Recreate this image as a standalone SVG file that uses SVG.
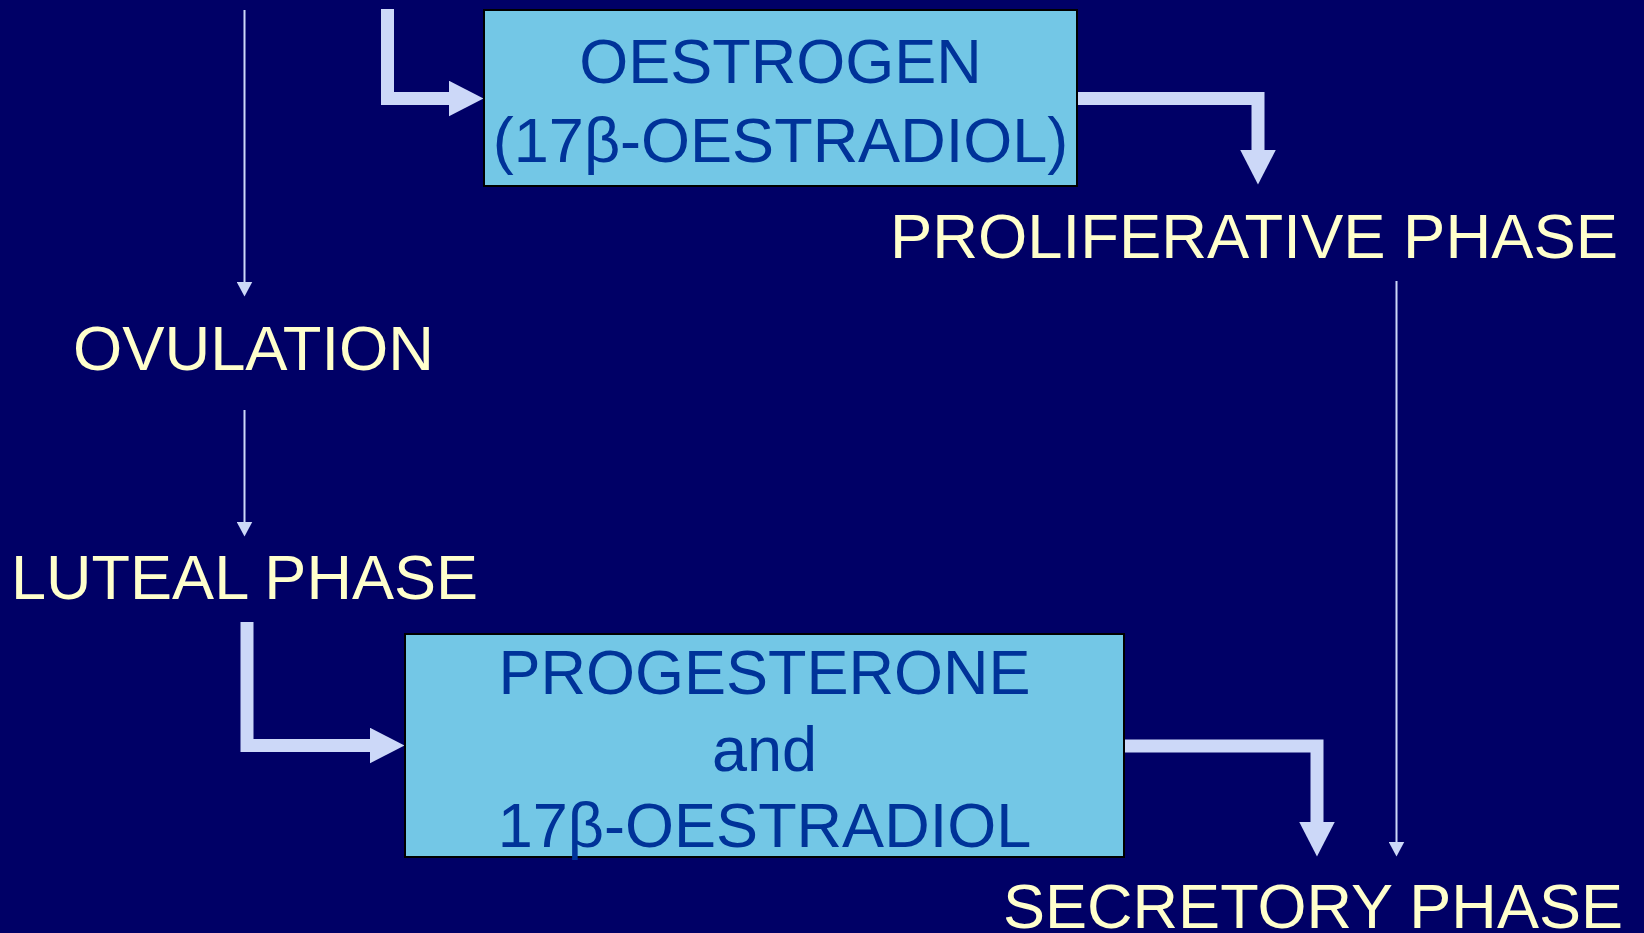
<svg xmlns="http://www.w3.org/2000/svg" width="1644" height="933" viewBox="0 0 1644 933">
<defs>
<style>
.lbl{font-family:"Liberation Sans",Arial,sans-serif;font-size:63px;fill:#FFFFCC}
.box{fill:#73C7E6;stroke:#000000;stroke-width:2}
.btxt{font-family:"Liberation Sans",Arial,sans-serif;font-size:63px;fill:#003399;text-anchor:middle}
.thick{fill:none;stroke:#CCD8F8;stroke-width:13;stroke-linejoin:miter;stroke-linecap:butt}
.thin{fill:none;stroke:#CCD8F8;stroke-width:2}
</style>
<marker id="bigHead" markerUnits="userSpaceOnUse" viewBox="0 0 35 36" markerWidth="35" markerHeight="36" refX="0.5" refY="18" orient="auto">
<path d="M0,0 L35,18 L0,36 Z" fill="#CCD8F8"/>
</marker>
<marker id="smallHead" markerUnits="userSpaceOnUse" viewBox="0 0 15 16" markerWidth="15" markerHeight="16" refX="0.5" refY="8" orient="auto">
<path d="M0,0 L15,8 L0,16 Z" fill="#CCD8F8"/>
</marker>
</defs>
<rect x="0" y="0" width="1644" height="933" fill="#000066"/>
<g id="connectors">
<path class="thick" d="M387.5,9 V98.5 H449" marker-end="url(#bigHead)"/>
<path class="thick" d="M1077,98.5 H1258 V150" marker-end="url(#bigHead)"/>
<path class="thick" d="M247,622 V745.5 H370" marker-end="url(#bigHead)"/>
<path class="thick" d="M1124,746 H1317 V822" marker-end="url(#bigHead)"/>
<path class="thin" d="M244.5,10 V282" marker-end="url(#smallHead)"/>
<path class="thin" d="M244.5,410 V522" marker-end="url(#smallHead)"/>
<path class="thin" d="M1396.5,281 V842" marker-end="url(#smallHead)"/>
</g>
<g id="oestrogen">
<rect class="box" x="484" y="10" width="593" height="176"/>
<text class="btxt" x="780.5" y="83">OESTROGEN</text>
<text class="btxt" x="780.5" y="162">(17β-OESTRADIOL)</text>
</g>
<g id="progesterone">
<rect class="box" x="405" y="634" width="719" height="223"/>
<text class="btxt" x="764.5" y="694">PROGESTERONE</text>
<text class="btxt" x="764.5" y="771">and</text>
<text class="btxt" x="764.5" y="847">17β-OESTRADIOL</text>
</g>
<g id="proliferative">
<text class="lbl" x="890" y="258" textLength="728" lengthAdjust="spacingAndGlyphs">PROLIFERATIVE PHASE</text>
</g>
<g id="ovulation">
<text class="lbl" x="73" y="370" textLength="361" lengthAdjust="spacingAndGlyphs">OVULATION</text>
</g>
<g id="luteal">
<text class="lbl" x="11" y="599" textLength="467" lengthAdjust="spacingAndGlyphs">LUTEAL PHASE</text>
</g>
<g id="secretory">
<text class="lbl" x="1003" y="928" textLength="620" lengthAdjust="spacingAndGlyphs">SECRETORY PHASE</text>
</g>
</svg>
